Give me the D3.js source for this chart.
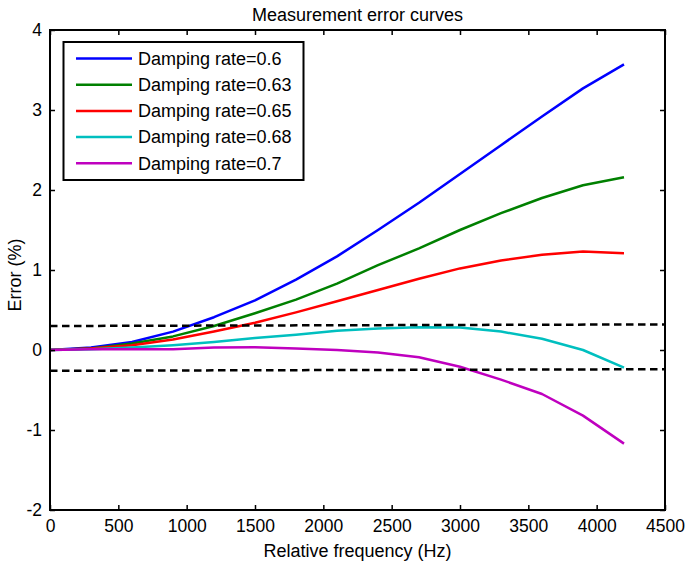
<!DOCTYPE html>
<html>
<head>
<meta charset="utf-8">
<script src="https://cdn.jsdelivr.net/npm/d3@7"></script>
<style>
  html, body { margin: 0; padding: 0; background: #fff; }
  svg { display: block; font-family: "Liberation Sans", Arial, sans-serif; }
</style>
</head>
<body>
<svg id="chart" width="687" height="563"></svg>
<script>
const frequencies = [0, 300, 600, 900, 1200, 1500, 1800, 2100, 2400, 2700, 3000, 3300, 3600, 3900, 4200];
const seriesNames = ["Damping rate=0.6", "Damping rate=0.63", "Damping rate=0.65", "Damping rate=0.68", "Damping rate=0.7"];
const seriesColors = ["#0000ff", "#008000", "#ff0000", "#00bfbf", "#bf00bf"];
const errDamp060 = [0, 0.03, 0.10, 0.23, 0.41, 0.62, 0.88, 1.17, 1.50, 1.84, 2.20, 2.56, 2.92, 3.27, 3.57];
const errDamp063 = [0, 0.02, 0.08, 0.17, 0.30, 0.46, 0.63, 0.83, 1.06, 1.27, 1.50, 1.71, 1.90, 2.06, 2.16];
const errDamp065 = [0, 0.02, 0.06, 0.13, 0.23, 0.34, 0.47, 0.61, 0.75, 0.89, 1.02, 1.12, 1.19, 1.23, 1.21];
const errDamp068 = [0, 0.01, 0.03, 0.06, 0.10, 0.15, 0.19, 0.24, 0.27, 0.285, 0.28, 0.23, 0.14, 0.0, -0.22];
const errDamp070 = [0, 0.01, 0.01, 0.01, 0.03, 0.035, 0.02, 0.0, -0.03, -0.09, -0.21, -0.37, -0.55, -0.82, -1.17];
const upperLimit = [[0, 0.30], [4500, 0.32]];
const lowerLimit = [[0, -0.26], [4500, -0.24]];
const xTicks = [0, 500, 1000, 1500, 2000, 2500, 3000, 3500, 4000, 4500];
const yTicks = [-2, -1, 0, 1, 2, 3, 4];
const titleText = "Measurement error curves";
const xLabel = "Relative frequency (Hz)";
const yLabel = "Error (%)";

const allSeries = [errDamp060, errDamp063, errDamp065, errDamp068, errDamp070];

const svg = d3.select("#chart");
const L = 50, R = 665, T = 30, B = 510;
const x = d3.scaleLinear().domain([0, 4500]).range([L, R]);
const y = d3.scaleLinear().domain([-2, 4]).range([B, T]);

const tickLen = 5;
const fs = 17.5;
const plainFmt = d => String(d);

// data lines
const line = d3.line().x((d, i) => x(frequencies[i])).y(d => y(d));
const lineG = svg.append("g");
allSeries.forEach((s, k) => {
  lineG.append("path").datum(s)
    .attr("d", line)
    .attr("fill", "none")
    .attr("stroke", seriesColors[k])
    .attr("stroke-width", 2.5)
    .attr("stroke-linejoin", "round");
});

// limit dashed lines
const limLine = d3.line().x(d => x(d[0])).y(d => y(d[1]));
[upperLimit, lowerLimit].forEach(lim => {
  svg.append("path").datum(lim)
    .attr("d", limLine)
    .attr("fill", "none")
    .attr("stroke", "#000")
    .attr("stroke-width", 2.5)
    .attr("stroke-dasharray", "7.5,4.5");
});

// axes
const xAxisB = d3.axisBottom(x).tickValues(xTicks).tickSize(-tickLen).tickPadding(10).tickFormat(plainFmt);
const xAxisT = d3.axisTop(x).tickValues(xTicks).tickSize(-tickLen).tickFormat("");
const yAxisL = d3.axisLeft(y).tickValues(yTicks).tickSize(-tickLen).tickPadding(8).tickFormat(plainFmt);
const yAxisR = d3.axisRight(y).tickValues(yTicks).tickSize(-tickLen).tickFormat("");

function styleAxis(g) {
  g.select(".domain").remove();
  g.selectAll(".tick line").attr("stroke", "#000").attr("stroke-width", 1.5);
  g.selectAll(".tick text").attr("fill", "#000").style("font-size", fs + "px")
    .style("font-family", '"Liberation Sans", Arial, sans-serif');
}
svg.append("g").attr("transform", `translate(0,${B})`).call(xAxisB).call(styleAxis);
svg.append("g").attr("transform", `translate(0,${T})`).call(xAxisT).call(styleAxis);
svg.append("g").attr("transform", `translate(${L},0)`).call(yAxisL).call(styleAxis);
svg.append("g").attr("transform", `translate(${R},0)`).call(yAxisR).call(styleAxis);

// frame
svg.append("rect").attr("x", L).attr("y", T).attr("width", R - L).attr("height", B - T)
  .attr("fill", "none").attr("stroke", "#000").attr("stroke-width", 2);

// title and labels
svg.append("text").attr("x", (L + R) / 2).attr("y", 20.5).attr("text-anchor", "middle")
  .style("font-size", "18px").attr("fill", "#000").text(titleText);
svg.append("text").attr("x", (L + R) / 2).attr("y", 557).attr("text-anchor", "middle")
  .style("font-size", "18px").attr("fill", "#000").text(xLabel);
svg.append("text").attr("transform", `translate(21,${275}) rotate(-90)`).attr("text-anchor", "middle")
  .style("font-size", "18px").attr("fill", "#000").text(yLabel);

// legend
const lg = svg.append("g");
lg.append("rect").attr("x", 63.5).attr("y", 42).attr("width", 240).attr("height", 138)
  .attr("fill", "#fff").attr("stroke", "#000").attr("stroke-width", 2);
seriesNames.forEach((name, k) => {
  const cy = 58.5 + k * 26.2;
  lg.append("line").attr("x1", 76).attr("x2", 132).attr("y1", cy).attr("y2", cy)
    .attr("stroke", seriesColors[k]).attr("stroke-width", 2.5);
  lg.append("text").attr("x", 138).attr("y", cy + 6.3)
    .style("font-size", "18px").attr("fill", "#000").text(name);
});
</script>
</body>
</html>
